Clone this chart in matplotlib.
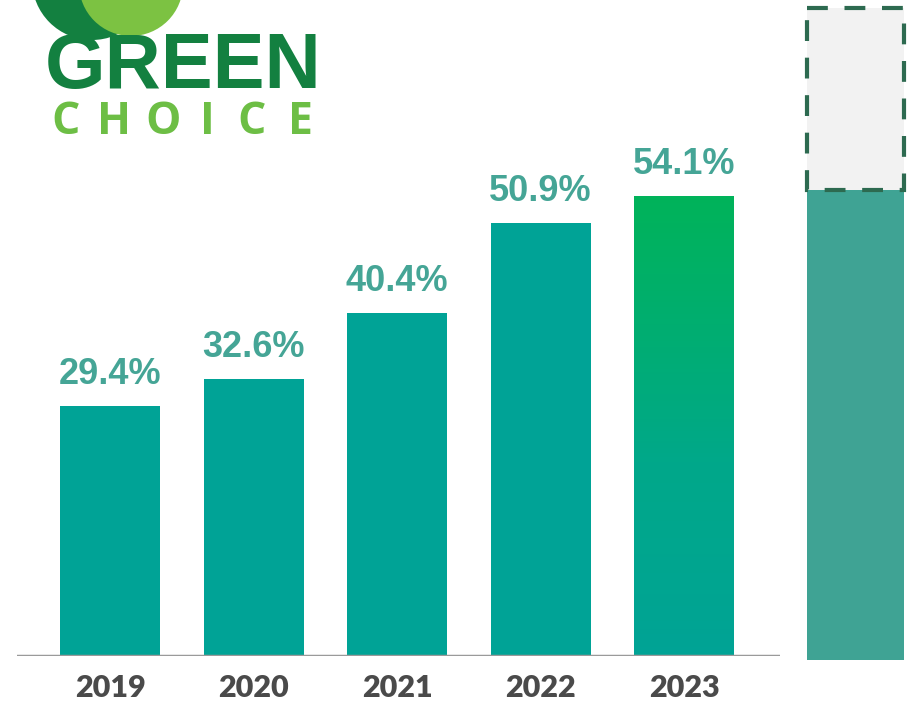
import numpy as np
import matplotlib.pyplot as plt
from matplotlib.patches import Rectangle, Circle
from matplotlib.colors import LinearSegmentedColormap

years = ['2019', '2020', '2021', '2022', '2023']
shares = [29.4, 32.6, 40.4, 50.9, 54.1]
labels = ['29.4%', '32.6%', '40.4%', '50.9%', '54.1%']

W, H = 915, 706
fig = plt.figure(figsize=(W / 100, H / 100), dpi=100)

# overlay in pixel coordinates for logo and side panel
deco = fig.add_axes([0, 0, 1, 1], zorder=0)
deco.set_xlim(0, W)
deco.set_ylim(H, 0)
deco.axis('off')

# bar axes: baseline at y=656px, x from 17 to 780px
ax = fig.add_axes([17 / W, (H - 656) / H, (780 - 17) / W, 656 / H], zorder=1)
ax.patch.set_alpha(0)
step = 143.5
ax.set_xlim((17 - 110) / step, (780 - 110) / step)
ax.set_ylim(0, 656 / 8.5)

teal = '#00a396'
x = np.arange(len(years))
bars = ax.bar(x, shares, width=100 / step, color=teal, zorder=2)

# gradient on the last bar
last = bars[-1]
last.set_facecolor('none')
x0 = last.get_x()
grad = LinearSegmentedColormap.from_list('g', [teal, '#00a88a', '#00b35a'])
img = ax.imshow(np.linspace(0, 1, 256).reshape(-1, 1) ** 0.8, cmap=grad,
                aspect='auto', origin='lower',
                extent=[x0, x0 + last.get_width(), 0, shares[-1]], zorder=2)
img.set_clip_path(last)

for xi, v, lab in zip(x, shares, labels):
    ax.annotate(lab, (xi, v), xytext=(0, 10), textcoords='offset points',
                ha='center', va='bottom', fontsize=26, fontweight='bold',
                color='#45a596', family='Liberation Sans')

ax.axhline(0, color='#9a9a9a', lw=2.5, zorder=3)
for s in ax.spines.values():
    s.set_visible(False)
ax.set_yticks([])
ax.set_xticks(x)
ax.set_xticklabels(years, fontsize=22, fontweight='heavy', color='#4a4a4a',
                   family='Lato')
ax.tick_params(axis='x', length=0, pad=13)

# side panel
deco.add_patch(Rectangle((807, 190), 97, 470, color='#3fa394', lw=0))
deco.add_patch(Rectangle((807, 8), 97, 182, facecolor='#f2f2f2',
                         edgecolor='#2d6a50', lw=3, linestyle=(0, (5, 4))))

# logo
deco.add_patch(Circle((92, -20), 60, color='#138040', lw=0))
deco.add_patch(Circle((131, -16), 52, color='#7cc242', lw=0))
deco.text(183, 88, 'GREEN', ha='center', va='baseline', fontsize=56,
          fontweight='bold', color='#138040', family='Liberation Sans')
for cx, ch in zip([66, 114, 163, 207, 252, 301], 'CHOICE'):
    deco.text(cx, 134, ch, ha='center', va='baseline', fontsize=32,
              fontweight='bold', color='#6dbe45', family='Open Sans')

fig.savefig('out.png', dpi=100)
